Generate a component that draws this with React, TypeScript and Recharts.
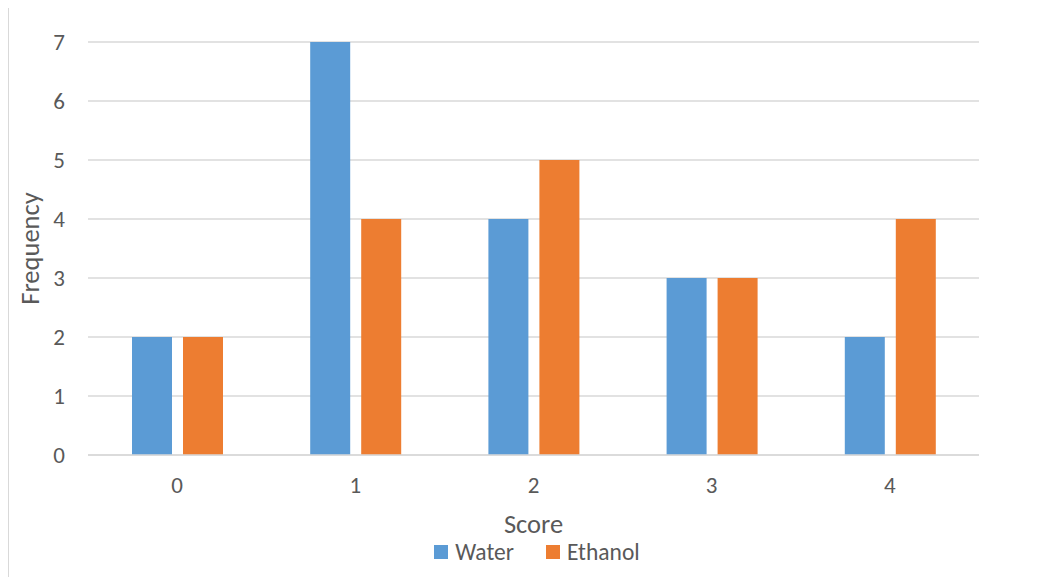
import React from "react";
import { BarChart, Bar, XAxis, YAxis, CartesianGrid, Legend, Label } from "recharts";

const categories = ["0", "1", "2", "3", "4"];
const waterValues = [2, 7, 4, 3, 2];
const ethanolValues = [2, 4, 5, 3, 4];
const yTicks = [0, 1, 2, 3, 4, 5, 6, 7];

const data = categories.map((c, i) => ({ score: c, Water: waterValues[i], Ethanol: ethanolValues[i] }));

const FONT = "Carlito, Lato, sans-serif";
const TEXT = "#595959";
const BLUE = "#5B9BD5";
const ORANGE = "#ED7D31";

const LegendContent = () => (
  <div
    style={{
      display: "flex",
      justifyContent: "center",
      alignItems: "center",
      gap: 32,
      fontFamily: FONT,
      fontSize: 23.5,
      color: TEXT,
      paddingLeft: 86,
      height: 30,
    }}
  >
    {[
      { name: "Water", color: BLUE },
      { name: "Ethanol", color: ORANGE },
    ].map((it) => (
      <div key={it.name} style={{ display: "flex", alignItems: "center" }}>
        <span style={{ display: "inline-block", width: 14, height: 14, background: it.color, marginRight: 7 }} />
        <span>{it.name}</span>
      </div>
    ))}
  </div>
);

export default function App() {
  return (
    <div
      style={{
        width: 1040,
        height: 574,
        border: "1px solid #D9D9D9",
        marginTop: -2,
        background: "#fff",
        boxSizing: "content-box",
      }}
    >
      <BarChart
        width={1030}
        height={572}
        data={data}
        margin={{ top: 35, right: 60, left: 0, bottom: 12 }}
        barSize={40}
        barGap={11}
      >
        <CartesianGrid vertical={false} stroke="#D9D9D9" strokeWidth={1.3} />
        <XAxis
          dataKey="score"
          height={82}
          tickLine={false}
          axisLine={{ stroke: "#D9D9D9", strokeWidth: 1.3 }}
          tick={{ fill: TEXT, fontSize: 23, fontFamily: FONT }}
          tickMargin={16}
        >
          <Label value="Score" position="insideBottom" offset={4} fill={TEXT} fontSize={26.5} fontFamily={FONT} />
        </XAxis>
        <YAxis
          width={79}
          domain={[0, 7]}
          ticks={yTicks}
          interval={0}
          tickLine={false}
          axisLine={false}
          tick={{ fill: TEXT, fontSize: 23, fontFamily: FONT }}
          tickMargin={17}
        >
          <Label
            value="Frequency"
            angle={-90}
            position="insideLeft"
            offset={21}
            fill={TEXT}
            fontSize={26.5}
            fontFamily={FONT}
            style={{ textAnchor: "middle" }}
          />
        </YAxis>
        <Legend verticalAlign="bottom" height={30} content={<LegendContent />} />
        <Bar dataKey="Water" fill={BLUE} isAnimationActive={false} />
        <Bar dataKey="Ethanol" fill={ORANGE} isAnimationActive={false} />
      </BarChart>
    </div>
  );
}
